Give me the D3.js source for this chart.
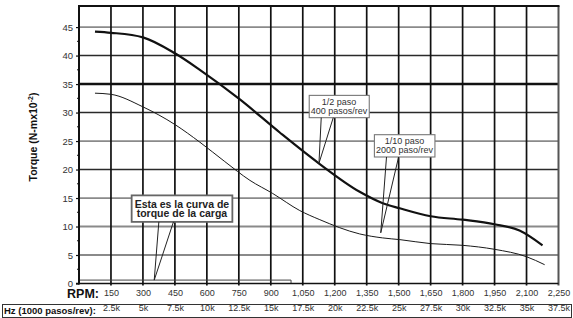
<!DOCTYPE html>
<html>
<head>
<meta charset="utf-8">
<script src="https://cdn.jsdelivr.net/npm/d3@7"></script>
<style>
    body { margin: 0; background: #fff; }
    svg { display: block; font-family: "Liberation Sans", Arial, sans-serif; }
    .narrow { font-family: "Liberation Sans Narrow", "Arial Narrow", "Liberation Sans", Arial, sans-serif; }
</style>
</head>
<body>
<div id="chart"></div>
<script>
// RPM tick positions along the bottom axis
const rpmTicks = [150, 300, 450, 600, 750, 900, 1050, 1200, 1350, 1500, 1650, 1800, 1950, 2100, 2250];
// second row of labels, step frequency at 1000 pasos/rev
const hzLabels = ["2.5k", "5k", "7.5k", "10k", "12.5k", "15k", "17.5k", "20k", "22.5k", "25k", "27.5k", "30k", "32.5k", "35k", "37.5k"];
const torqueTicks = [0, 5, 10, 15, 20, 25, 30, 35, 40, 45];
const torqueMinor = [2.5, 7.5, 12.5, 17.5, 22.5, 27.5, 32.5, 37.5, 42.5];

// [rpm, torque]
const halfStep = [
    [75, 44.2], [150, 44.0], [300, 43.2], [450, 40.4], [567, 37.5], [755, 32.3],
    [942, 26.5], [1125, 21.1], [1317, 16.1], [1425, 14.1], [1505, 13.2], [1650, 11.8],
    [1800, 11.2], [1950, 10.4], [2067, 9.3], [2175, 6.7]
];
const tenthStep = [
    [75, 33.4], [150, 33.2], [300, 31.0], [450, 27.9], [567, 24.8], [684, 21.4],
    [802, 18.1], [909, 15.8], [1036, 12.8], [1130, 11.2], [1317, 8.7], [1425, 8.0],
    [1505, 7.7], [1650, 7.0], [1800, 6.7], [1950, 6.0], [2100, 4.7], [2185, 3.3]
];
const loadCurve = [[0, 0.6], [995, 0.6], [995, 0]];

// callouts: text lines, where the pointer ends and where the box sits (data units)
const callouts = [
    { lines: ["1/2 paso", "400 pasos/rev"], tip: [1126, 21.1], box: [1220, 31.1], bold: false },
    { lines: ["1/10 paso", "2000 paso/rev"], tip: [1416, 8.9], box: [1527, 24.2], bold: false },
    { lines: ["Esta es la curva de", "torque de la carga"], tip: [353, 0.6], box: [483, 13.1], bold: true }
];

/*
SVG CANVAS
*/
const width = 573;
const height = 318;

const svg = d3.select("#chart")
    .append("svg")
    .attr("width", width)
    .attr("height", height);

/*
SCALES
*/
const xScale = d3.scaleLinear()
    .domain([0, 2250])
    .range([79, 558.5]);

const yScale = d3.scaleLinear()
    .domain([0, 48.7])
    .range([283.5, 6]);

const plotLeft = xScale(0), plotRight = xScale(2250);
const plotTop = yScale(48.7), plotBottom = yScale(0);

/*
GRID
*/
function gridStyle(v) {
    if (v == 35) return { c: "#111", w: 2.4 };
    if (v == 40 || v == 30 || v == 20) return { c: "#2a2a2a", w: 1.5 };
    return { c: "#8a8a8a", w: 1.8 };
}

svg.append("g")
    .selectAll("line")
    .data(torqueTicks.filter(d => d > 0))
    .join("line")
    .attr("x1", plotLeft)
    .attr("x2", plotRight)
    .attr("y1", d => yScale(d))
    .attr("y2", d => yScale(d))
    .attr("stroke", d => gridStyle(d).c)
    .attr("stroke-width", d => gridStyle(d).w);

svg.append("g")
    .selectAll("line")
    .data(rpmTicks.filter(d => d < 2250))
    .join("line")
    .attr("x1", d => xScale(d))
    .attr("x2", d => xScale(d))
    .attr("y1", plotTop)
    .attr("y2", plotBottom + 2)
    .attr("stroke", "#111")
    .attr("stroke-width", 1.7);

// right border
svg.append("line")
    .attr("x1", plotRight).attr("x2", plotRight)
    .attr("y1", plotTop).attr("y2", plotBottom + 2)
    .attr("stroke", "#555")
    .attr("stroke-width", 2);

// top border
svg.append("line")
    .attr("x1", plotLeft - 1).attr("x2", plotRight + 1)
    .attr("y1", plotTop).attr("y2", plotTop)
    .attr("stroke", "#111")
    .attr("stroke-width", 2);

/*
LOAD CURVE
*/
const line = d3.line()
    .x(d => xScale(d[0]))
    .y(d => yScale(d[1]));

svg.append("path")
    .datum(loadCurve)
    .attr("d", line)
    .attr("fill", "none")
    .attr("stroke", "#444")
    .attr("stroke-width", 1);

/*
AXES
*/
const yAxis = svg.append("g")
    .attr("transform", `translate(${plotLeft},0)`)
    .call(d3.axisLeft(yScale).tickValues(torqueTicks).tickSize(3).tickPadding(3));
yAxis.select(".domain").remove();
yAxis.selectAll("line").attr("stroke", "#111").attr("stroke-width", 1.2);
yAxis.selectAll("text")
    .attr("font-size", 9.5)
    .attr("fill", "#333");

svg.append("g")
    .selectAll("line")
    .data(torqueMinor)
    .join("line")
    .attr("x1", plotLeft - 2)
    .attr("x2", plotLeft)
    .attr("y1", d => yScale(d))
    .attr("y2", d => yScale(d))
    .attr("stroke", "#111")
    .attr("stroke-width", 1);

// axis lines
svg.append("line")
    .attr("x1", plotLeft).attr("x2", plotLeft)
    .attr("y1", plotTop - 1).attr("y2", plotBottom + 1)
    .attr("stroke", "#111")
    .attr("stroke-width", 2);

svg.append("line")
    .attr("x1", plotLeft - 3).attr("x2", plotRight)
    .attr("y1", plotBottom).attr("y2", plotBottom)
    .attr("stroke", "#111")
    .attr("stroke-width", 1.5);

const xAxis = svg.append("g")
    .attr("class", "narrow")
    .attr("transform", `translate(0,${plotBottom})`)
    .call(d3.axisBottom(xScale).tickValues(rpmTicks).tickSize(0).tickPadding(6));
xAxis.select(".domain").remove();
xAxis.selectAll("text")
    .attr("font-size", 9)
    .attr("fill", "#333");

svg.append("text")
    .attr("class", "narrow")
    .attr("x", 99)
    .attr("y", 298)
    .attr("text-anchor", "end")
    .attr("font-size", 12.5)
    .attr("font-weight", "bold")
    .attr("fill", "#111")
    .text("RPM:");

/*
HZ ROW
*/
svg.append("rect")
    .attr("x", 2.5)
    .attr("y", 304.5)
    .attr("width", 569)
    .attr("height", 13)
    .attr("fill", "none")
    .attr("stroke", "#333")
    .attr("stroke-width", 1);

const hzAxis = svg.append("g")
    .attr("transform", "translate(0,304)")
    .call(d3.axisBottom(xScale).tickValues(rpmTicks).tickSize(0).tickPadding(1)
        .tickFormat((d, i) => hzLabels[i]));
hzAxis.select(".domain").remove();
hzAxis.selectAll("text")
    .attr("font-size", 9)
    .attr("fill", "#333");

svg.append("text")
    .attr("class", "narrow")
    .attr("x", 4)
    .attr("y", 314)
    .attr("font-size", 9.5)
    .attr("font-weight", "bold")
    .attr("fill", "#111")
    .text("Hz (1000 pasos/rev):");

/*
Y LABEL
*/
const yLabel = svg.append("text")
    .attr("transform", `translate(37,137) rotate(-90)`)
    .attr("text-anchor", "middle")
    .attr("font-size", 10.5)
    .attr("font-weight", "bold")
    .attr("fill", "#111");
yLabel.append("tspan").text("Torque (N-mx10");
yLabel.append("tspan").attr("font-size", 7).attr("dy", -4).text("-2");
yLabel.append("tspan").attr("dy", 4).text(")");

/*
TORQUE CURVES
*/
const curve = d3.line()
    .x(d => xScale(d[0]))
    .y(d => yScale(d[1]))
    .curve(d3.curveMonotoneX);

svg.append("path")
    .datum(tenthStep)
    .attr("d", curve)
    .attr("fill", "none")
    .attr("stroke", "#1a1a1a")
    .attr("stroke-width", 1);

svg.append("path")
    .datum(halfStep)
    .attr("d", curve)
    .attr("fill", "none")
    .attr("stroke", "#111")
    .attr("stroke-width", 2.2);

/*
CALLOUTS
*/
callouts.forEach(function (c) {
    const g = svg.append("g");
    const fs = c.bold ? 10.5 : 9;
    const lh = c.bold ? 9.5 : 9.3;
    const bx = xScale(c.box[0]);
    const by = yScale(c.box[1]);

    const txt = g.append("text")
        .attr("text-anchor", "middle")
        .attr("font-size", fs)
        .attr("font-weight", c.bold ? "bold" : "normal")
        .attr("fill", c.bold ? "#222" : "#333");
    c.lines.forEach(function (s, i) {
        txt.append("tspan")
            .attr("x", bx)
            .attr("y", by + (i - 0.5) * lh + fs * 0.36)
            .text(s);
    });

    const bb = txt.node().getBBox();
    const padX = c.bold ? 3 : 1.5;
    const padY = c.bold ? 2.5 : 1.5;
    const x0 = bb.x - padX, x1 = bb.x + bb.width + padX;
    const y0 = bb.y - padY, y1 = bb.y + bb.height + padY;

    g.insert("rect", "text")
        .attr("x", x0).attr("y", y0)
        .attr("width", x1 - x0).attr("height", y1 - y0)
        .attr("fill", "#fff")
        .attr("stroke", c.bold ? "#666" : "#777")
        .attr("stroke-width", c.bold ? 1.8 : 1.1);

    const tx = xScale(c.tip[0]), ty = yScale(c.tip[1]);
    const w = x1 - x0;
    const a = x0 + w * (c.bold ? 0.27 : 0.2);
    const b = x0 + w * (c.bold ? 0.415 : 0.4);
    g.append("path")
        .attr("d", `M${a},${y1}L${tx},${ty}L${b},${y1}`)
        .attr("fill", "none")
        .attr("stroke", "#222")
        .attr("stroke-width", 1);
});
</script>
</body>
</html>
